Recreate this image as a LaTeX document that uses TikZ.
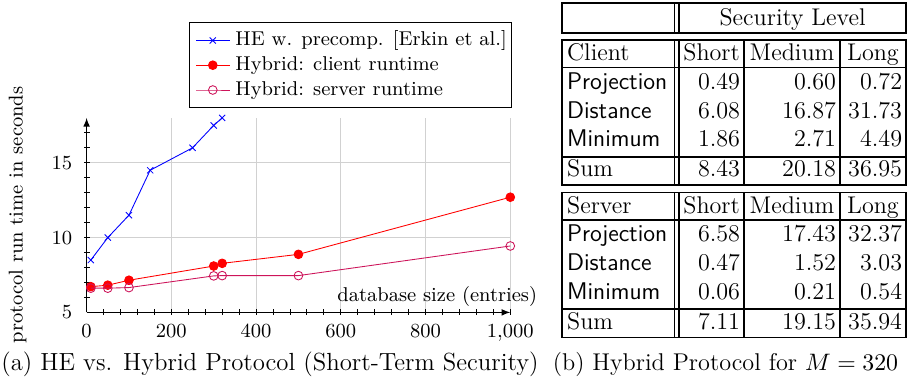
\documentclass[tikz,border=0pt]{standalone}
\usepackage{amsmath}
\usepackage{tikz}
\usetikzlibrary{positioning,arrows,plotmarks}
\definecolor{srvcol}{RGB}{205,20,90}

\begin{document}
\begin{tikzpicture}[
  x={(0.46pt,0)}, y={(0,-0.46pt)},
  gridline/.style={draw=black!18,line width=0.4pt},
  axisline/.style={draw=black,line width=0.4pt,-latex},
  heplot/.style={draw=blue,line width=0.4pt,mark=x},
  cliplot/.style={draw=red,line width=0.4pt,mark=*,mark options={fill=red}},
  srvplot/.style={draw=srvcol,line width=0.4pt,mark=o},
  plottext/.style={font=\fontsize{9.2}{11}\selectfont,inner sep=0pt},
  captext/.style={font=\fontsize{11.15}{13.5}\selectfont,inner sep=0pt},
  tabline/.style={draw=black,line width=0.85pt},
  tabtext/.style={font=\fontsize{11.1}{13.5}\selectfont,inner sep=0pt}
]
\useasboundingbox (0,0) rectangle (912,380);

% (a) the plot
\begin{scope}[shift={(86.6,312.4)},x={(0.1949pt,0)},y={(0,6.882pt)},shift={(0,-5)}]
  \foreach \gx in {200,400,...,1000} \draw[gridline] (\gx,5) -- (\gx,18);
  \foreach \gy in {10,15} \draw[gridline] (0,\gy) -- (1000,\gy);
  \foreach \tx in {40,80,...,1000} \draw ([yshift=1.4pt]\tx,5) -- ([yshift=-1.4pt]\tx,5);
  \foreach \ty in {6,...,17} \draw ([xshift=1.4pt]0,\ty) -- ([xshift=-1.4pt]0,\ty);
  \draw[axisline] (0,5) -- (1000,5);
  \draw[axisline] (0,5) -- (0,18);
  \foreach \tx/\tl in {0/0,200/200,400/400,600/600,800/800,1000/{1,000}}
    \node[plottext,anchor=north] (xlab\tx) at ([yshift=-5.1pt]\tx,5) {\tl};
  \foreach \ty in {5,10,15}
    \node[plottext,anchor=east] (ylab\ty) at ([xshift=-6.4pt]0,\ty) {\ty};
  \draw[heplot] plot coordinates {(10,8.5) (50,10) (100,11.5) (150,14.5) (250,16) (300,17.5) (320,18)};
  \draw[cliplot] plot coordinates {(10,6.72) (50,6.82) (100,7.15) (300,8.1) (320,8.28) (500,8.88) (1000,12.7)};
  \draw[srvplot] plot coordinates {(10,6.62) (50,6.62) (100,6.66) (300,7.44) (320,7.46) (500,7.46) (1000,9.44)};
\end{scope}

\node[plottext,anchor=base east] (xname) at (537.5,301) {database size (entries)};
\node[plottext,rotate=90] (yname) at (17.5,215) {protocol run time in seconds};

% legend
\draw[line width=0.4pt] (189.5,22.7) rectangle (511.3,107.3);
\draw[heplot,mark indices={2}] plot coordinates {(196,40.5) (212.8,40.5) (229.8,40.5)};
\draw[cliplot,mark indices={2}] plot coordinates {(196,65.2) (212.8,65.2) (229.8,65.2)};
\draw[srvplot,mark indices={2}] plot coordinates {(196,90) (212.8,90) (229.8,90)};
\node[plottext,anchor=base west] (legHE) at (235,45.7) {HE w. precomp. [Erkin et al.]};
\node[plottext,anchor=base west] (legCli) at (235,70.4) {Hybrid: client runtime};
\node[plottext,anchor=base west] (legSrv) at (235,95.2) {Hybrid: server runtime};

\node[captext,font=\fontsize{11.4}{13.5}\selectfont,anchor=base] (capa) at (270,370) {(a) HE vs. Hybrid Protocol (Short-Term Security)};

% (b) the tables
\draw[tabline] (561.7,3.3) rectangle (906,32.7);
\draw[tabline] (674.5,3.3) -- (674.5,32.7) (679.2,3.3) -- (679.2,32.7);
\node[tabtext,anchor=base] (seclevel) at (792.6,25) {Security Level};

\foreach \ty in {40,192.5} {
  \draw[tabline] (561.7,\ty) rectangle (906,\ty+145);
  \foreach \vx in {674.5,679.2,744,840} \draw[tabline] (\vx,\ty) -- (\vx,\ty+145);
  \draw[tabline] (561.7,\ty+27.5) -- (906,\ty+27.5);
  \draw[tabline] (561.7,\ty+116.7) -- (906,\ty+116.7);
  \node[tabtext,anchor=base] (short\ty) at (711.6,\ty+20.5) {Short};
  \node[tabtext,anchor=base] (medium\ty) at (792,\ty+20.5) {Medium};
  \node[tabtext,anchor=base] (long\ty) at (873,\ty+20.5) {Long};
}
\node[tabtext,anchor=base west] (client) at (566.7,60.5) {Client};
\node[tabtext,anchor=base west] (server) at (566.7,213) {Server};

\foreach \ry/\rname/\va/\vb/\vc in {89.3/Projection/0.49/0.60/0.72,118.3/Distance/6.08/16.87/31.73,146.7/Minimum/1.86/2.71/4.49} {
  \node[tabtext,anchor=base west] (c\rname) at (566.7,\ry) {\textsf{\rname}};
  \node[tabtext,anchor=base east] (c\rname a) at (740.5,\ry) {\va};
  \node[tabtext,anchor=base east] (c\rname b) at (836.5,\ry) {\vb};
  \node[tabtext,anchor=base east] (c\rname c) at (902.5,\ry) {\vc};
}
\foreach \ry/\rname/\va/\vb/\vc in {241.8/Projection/6.58/17.43/32.37,270.8/Distance/0.47/1.52/3.03,299.2/Minimum/0.06/0.21/0.54} {
  \node[tabtext,anchor=base west] (s\rname) at (566.7,\ry) {\textsf{\rname}};
  \node[tabtext,anchor=base east] (s\rname a) at (740.5,\ry) {\va};
  \node[tabtext,anchor=base east] (s\rname b) at (836.5,\ry) {\vb};
  \node[tabtext,anchor=base east] (s\rname c) at (902.5,\ry) {\vc};
}
\node[tabtext,anchor=base west] (csum) at (566.7,176.7) {Sum};
\node[tabtext,anchor=base east] (csuma) at (740.5,176.7) {8.43};
\node[tabtext,anchor=base east] (csumb) at (836.5,176.7) {20.18};
\node[tabtext,anchor=base east] (csumc) at (902.5,176.7) {36.95};
\node[tabtext,anchor=base west] (ssum) at (566.7,329.2) {Sum};
\node[tabtext,anchor=base east] (ssuma) at (740.5,329.2) {7.11};
\node[tabtext,anchor=base east] (ssumb) at (836.5,329.2) {19.15};
\node[tabtext,anchor=base east] (ssumc) at (902.5,329.2) {35.94};

\node[captext,anchor=base] (capb) at (725.5,370.5) {(b) Hybrid Protocol for $M = 320$};
\end{tikzpicture}
\end{document}
